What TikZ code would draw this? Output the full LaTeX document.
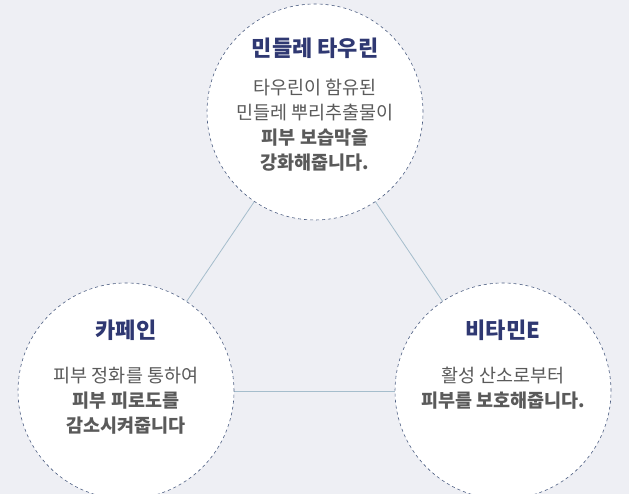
\documentclass[tikz,border=0pt]{standalone}
\usepackage{fontspec}
\setmainfont{Noto Sans CJK KR}
\definecolor{bgc}{HTML}{EEEFF4}
\definecolor{ringc}{HTML}{4A5C80}
\definecolor{linkc}{HTML}{A5BDCC}
\definecolor{headc}{HTML}{2F3872}
\definecolor{bodyc}{HTML}{5A5A5A}
\tikzset{
  bubble/.style={circle,draw=ringc,dashed,semithick,fill=white,minimum size=216pt,inner sep=0pt},
  head/.style={font=\fontsize{22}{24}\selectfont\bfseries,text=headc},
  body/.style={font=\fontsize{18.5}{25}\selectfont,text=bodyc,align=center,anchor=north}
}
\begin{document}
\begin{tikzpicture}[x=1pt,y=-1pt]
\fill[bgc] (0,0) rectangle (629,494);
\useasboundingbox (0,0) rectangle (629,494);
\clip (0,0) rectangle (629,494);
\coordinate (top) at (315,112);
\coordinate (left) at (126,391);
\coordinate (right) at (503,391);
\draw[draw=linkc,thick] (top) -- (left);
\draw[draw=linkc,thick] (top) -- (right);
\draw[draw=linkc,thick] (left) -- (right);
\node[bubble] (c1) at (top) {};
\node[bubble] (c2) at (left) {};
\node[bubble] (c3) at (right) {};
\node[head] (t1) at (315,48) {민들레 타우린};
\node[body] (b1) at (315,76) {타우린이 함유된\\민들레 뿌리추출물이\\\textbf{피부 보습막을}\\\textbf{강화해줍니다.}};
\node[head] (t2) at (126,330) {카페인};
\node[body] (b2) at (126,364) {피부 정화를 통하여\\\textbf{피부 피로도를}\\\textbf{감소시켜줍니다}};
\node[head] (t3) at (503,330) {비타민E};
\node[body] (b3) at (503,364) {활성 산소로부터\\\textbf{피부를 보호해줍니다.}};
\end{tikzpicture}
\end{document}
